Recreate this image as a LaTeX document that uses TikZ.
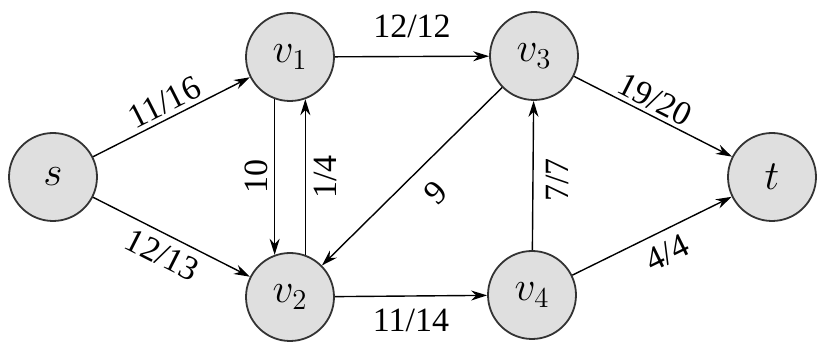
\documentclass[tikz,border=0pt]{standalone}
\usepackage{fontspec}
\setmainfont{Liberation Serif}
\newfontfamily\flowfont{Liberation Serif}
\usetikzlibrary{arrows.meta}

\begin{document}
\begin{tikzpicture}[
      x=0.5pt, y=-0.5pt,
      >={Stealth[length=8pt, width=5pt]},
      vertex/.style={circle, draw=black!80, line width=0.9pt, fill=gray!25,
                     minimum size=44pt, inner sep=0pt, font=\fontsize{21}{24}\selectfont},
      flow/.style={font=\flowfont\fontsize{17}{20}\selectfont, inner sep=2pt},
      every path/.style={line width=0.7pt},
    ]
    \useasboundingbox (0,0) rectangle (821,347);

    \node[vertex] (s)  at (53,177)  {$s$};
    \node[vertex] (v1) at (290,57)  {$v_1$};
    \node[vertex] (v2) at (290,297) {$v_2$};
    \node[vertex] (v3) at (534,56)  {$v_3$};
    \node[vertex] (v4) at (532,295) {$v_4$};
    \node[vertex] (t)  at (772,177) {$t$};

    \draw[->] (s) -- (v1) node[flow, midway, above, sloped] {11/16};
    \draw[->] (s) -- (v2) node[flow, midway, below, sloped, yshift=-2pt] {12/13};
    \draw[->] (v1) -- (v3) node[flow, midway, above, yshift=7pt] {12/12};
    \draw[->] (v2) -- (v4) node[flow, midway, below, yshift=-4pt] {11/14};
    \draw[->] (v3) -- (t) node[flow, midway, above, sloped, xshift=-3pt] {19/20};
    \draw[->] (v4) -- (t) node[flow, midway, below, sloped, yshift=-3pt, xshift=3pt] {4/4};
    % the pair between v1 and v2
    \draw[->] (v1.250) -- (v2.110) node[flow, midway, rotate=90, anchor=south, yshift=1pt] {10};
    \draw[->] (v2.70) -- (v1.290) node[flow, midway, rotate=90, anchor=north, yshift=-2pt] {1/4};
    \draw[->] (v3) -- (v2) node[flow, midway, below, sloped, xshift=3pt, yshift=-6pt] {9};
    \draw[->] (v4) -- (v3) node[flow, pos=0.47, rotate=90, anchor=north, yshift=-4pt] {7/7};
  \end{tikzpicture}
\end{document}
